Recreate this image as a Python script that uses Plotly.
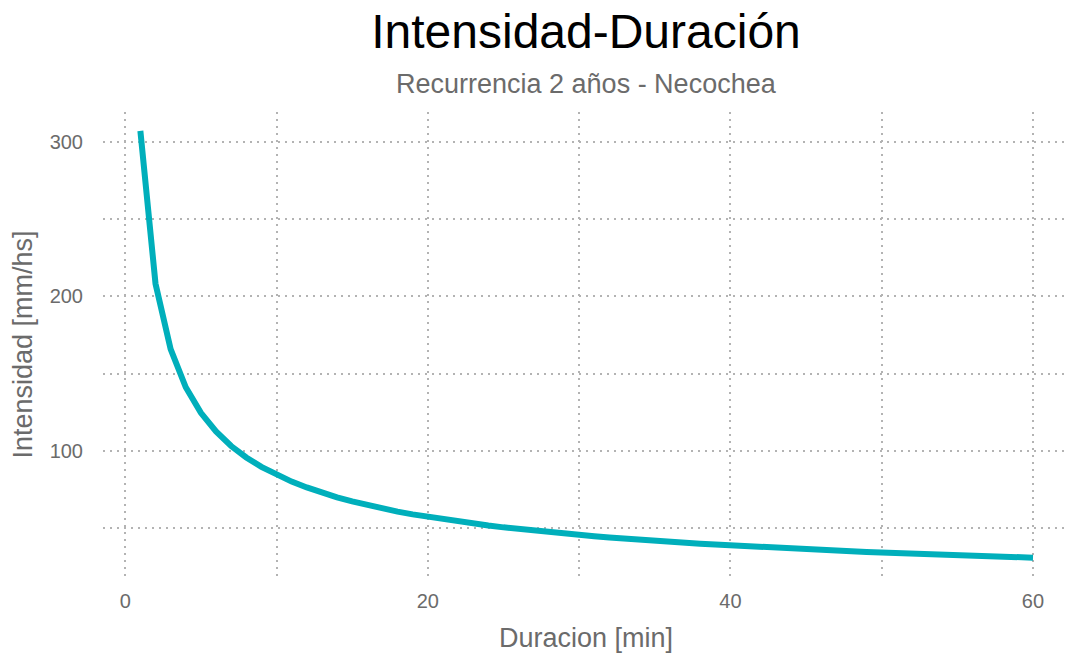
import plotly.graph_objects as go

# Duración [min]
duracion = list(range(1, 61))
# Intensidad [mm/hs]
intensidad = [
    307.0, 208.2, 165.9, 141.2, 124.7, 112.6, 103.2, 95.8, 89.7, 84.6,
    80.2, 76.4, 73.0, 70.0, 67.4, 65.0, 62.8, 60.8, 59.0, 57.4,
    55.8, 54.4, 53.0, 51.8, 50.6, 49.5, 48.5, 47.5, 46.6, 45.7,
    44.9, 44.1, 43.3, 42.6, 41.9, 41.3, 40.6, 40.0, 39.5, 38.9,
    38.4, 37.9, 37.4, 36.9, 36.4, 36.0, 35.5, 35.1, 34.7, 34.3,
    34.0, 33.6, 33.2, 32.9, 32.6, 32.2, 31.9, 31.6, 31.3, 31.0,
]
x_ticks = [0, 20, 40, 60]
y_ticks = [100, 200, 300]

title_text = "Intensidad-Duración"
subtitle_text = "Recurrencia 2 años - Necochea"
x_title = "Duracion [min]"
y_title = "Intensidad [mm/hs]"

FONT = "Liberation Sans, Arial, sans-serif"
GRID = "#b3b3b3"
DASH = "1.5px,5.5px"
PLOT_TOP, PLOT_BOTTOM = 112, 577
W, H = 1069, 657

fig = go.Figure()
fig.add_trace(go.Scatter(
    x=duracion, y=intensidad, mode="lines",
    line=dict(color="#00AFBB", width=6),
    hoverinfo="x+y", showlegend=False,
))

fig.update_layout(
    width=W, height=H,
    margin=dict(l=103, r=0, t=PLOT_TOP, b=H - PLOT_BOTTOM),
    paper_bgcolor="white", plot_bgcolor="white",
    font=dict(family=FONT, color="#6b6b6b"),
    title=dict(text=title_text, x=0.5, xref="paper", xanchor="center",
               y=1 - 31 / H, yref="container", yanchor="middle",
               font=dict(size=48, color="black", family=FONT)),
    annotations=[dict(text=subtitle_text, x=0.5, xref="paper", xanchor="center",
                      y=(PLOT_BOTTOM - 84) / (PLOT_BOTTOM - PLOT_TOP), yref="paper",
                      yanchor="middle",
                      showarrow=False, font=dict(size=27, color="#6b6b6b", family=FONT))],
)

fig.update_xaxes(
    range=[-1.47, 62.38], tickvals=x_ticks, ticktext=[str(v) for v in x_ticks],
    showgrid=True, gridcolor=GRID, gridwidth=1.5, griddash=DASH,
    minor=dict(dtick=10, tick0=0, showgrid=True, gridcolor=GRID, gridwidth=1.5, griddash=DASH),
    zeroline=False, showline=False, ticks="",
    tickfont=dict(size=20, color="#6b6b6b", family=FONT),
    ticklabelstandoff=10,
    title=dict(text=x_title, font=dict(size=27, color="#6b6b6b", family=FONT), standoff=17),
)
fig.update_yaxes(
    range=[18.5, 319.2], tickvals=y_ticks, ticktext=[str(v) for v in y_ticks],
    showgrid=True, gridcolor=GRID, gridwidth=1.5, griddash=DASH,
    minor=dict(dtick=50, tick0=0, showgrid=True, gridcolor=GRID, gridwidth=1.5, griddash=DASH),
    zeroline=False, showline=False, ticks="",
    tickfont=dict(size=20, color="#6b6b6b", family=FONT),
    ticklabelstandoff=19,
    title=dict(text=y_title, font=dict(size=27, color="#6b6b6b", family=FONT), standoff=9),
)

fig.write_html("out.html", config={"displayModeBar": False},
               post_script="document.body.style.margin='0px';")
